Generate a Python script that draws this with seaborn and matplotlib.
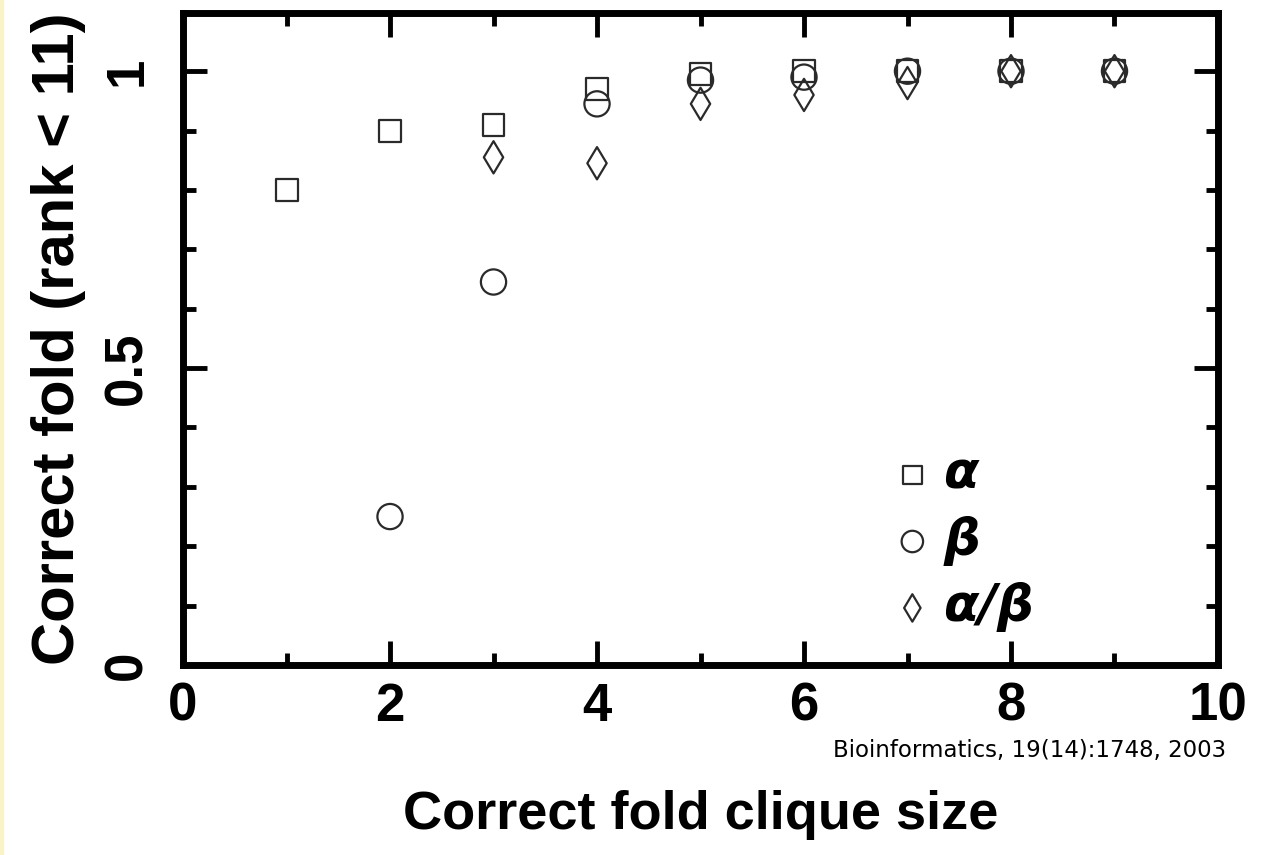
import numpy as np
import pandas as pd
import seaborn as sns
import matplotlib.pyplot as plt
from matplotlib.ticker import MultipleLocator
from matplotlib.patches import Rectangle

# values (fraction of folds ranked correctly, rank < 11)
alpha_size = [1, 2, 3, 4, 5, 6, 7, 8, 9]
alpha_frac = [0.80, 0.90, 0.91, 0.97, 0.995, 1.0, 1.0, 1.0, 1.0]
beta_size = [2, 3, 4, 5, 6, 7, 8, 9]
beta_frac = [0.25, 0.645, 0.945, 0.985, 0.99, 1.0, 1.0, 1.0]
ab_size = [3, 4, 5, 6, 7, 8, 9]
ab_frac = [0.855, 0.845, 0.945, 0.96, 0.98, 1.0, 1.0]

classes = ["α", "β", "α/β"]
markers = {"α": "s", "β": "o", "α/β": "d"}
msizes = {"α": 250, "β": 330, "α/β": 270}
x_ticks = [0, 2, 4, 6, 8, 10]
y_ticks = [0, 0.5, 1]
y_ticklabels = ["0", "0.5", "1"]

df = pd.concat([
    pd.DataFrame({"size": alpha_size, "frac": alpha_frac, "cls": "α"}),
    pd.DataFrame({"size": beta_size, "frac": beta_frac, "cls": "β"}),
    pd.DataFrame({"size": ab_size, "frac": ab_frac, "cls": "α/β"}),
])

sns.set_style("ticks")
plt.rcParams['font.family'] = ['Liberation Sans', 'DejaVu Sans']
plt.rcParams['font.weight'] = 'bold'
plt.rcParams['text.color'] = 'black'
plt.rcParams['xtick.color'] = 'black'
plt.rcParams['ytick.color'] = 'black'
plt.rcParams['axes.labelcolor'] = 'black'

fig = plt.figure(figsize=(12.64, 8.55), dpi=100)
ax = fig.add_axes([0.1448, 0.2222, 0.8188, 0.7626])

for c in classes:
    sub = df[df["cls"] == c]
    sns.scatterplot(data=sub, x="size", y="frac", marker=markers[c], s=msizes[c],
                    facecolors="none", edgecolor="#2a2a2a", linewidth=1.6,
                    label=c, ax=ax, zorder=3)

ax.set_xlim(0, 10)
ax.set_ylim(0, 1.098)
ax.set_xticks(x_ticks)
ax.set_xticklabels([str(t) for t in x_ticks])
ax.xaxis.set_minor_locator(MultipleLocator(1))
ax.set_yticks(y_ticks)
ax.set_yticklabels(y_ticklabels)
ax.yaxis.set_minor_locator(MultipleLocator(0.1))

for s in ax.spines.values():
    s.set_linewidth(5)
    s.set_color("black")
ax.tick_params(which="both", direction="in", top=True, right=True,
               color="black", width=3.5)
ax.tick_params(which="major", length=17)
ax.tick_params(which="minor", length=9)
ax.tick_params(axis="x", which="major", labelsize=38, pad=12)
ax.tick_params(axis="y", which="major", labelsize=38, pad=22, labelrotation=90)
for lab in ax.get_xticklabels() + ax.get_yticklabels():
    lab.set_fontweight("bold")
for lab in ax.get_yticklabels():
    lab.set_va("center")

ax.set_xlabel("Correct fold clique size", fontsize=39, fontweight="bold", labelpad=42)
ax.set_ylabel("Correct fold (rank < 11)", fontsize=43, fontweight="bold", labelpad=12)

leg = ax.legend(loc="upper left", bbox_to_anchor=(0.66, 0.362), frameon=False,
                handletextpad=0.1, labelspacing=0.32, markerscale=0.85,
                borderaxespad=0, handlelength=1.0,
                prop={"family": "DejaVu Sans", "weight": "bold", "style": "italic", "size": 37})

fig.text(833 / 1264, 1 - 750 / 855, "Bioinformatics, 19(14):1748, 2003",
         fontsize=16.5, family="DejaVu Sans", fontweight="normal", va="center")

fig.patches.append(Rectangle((0, 0), 0.0025, 1, transform=fig.transFigure,
                             color="#fbf3c8", zorder=0))

fig.savefig("out.png", dpi=100)
